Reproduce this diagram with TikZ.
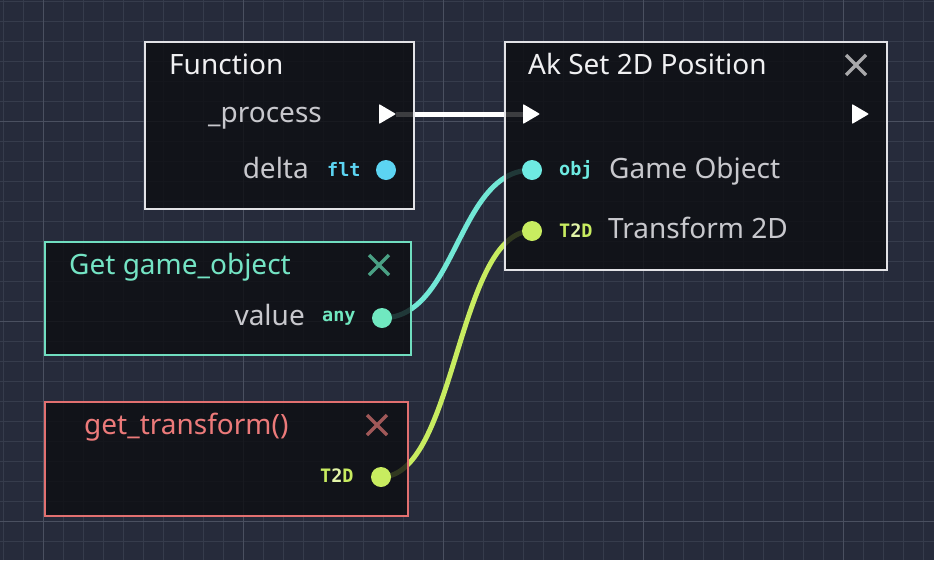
\documentclass[tikz,border=0pt]{standalone}
\usepackage{fontspec}
\setmainfont{Noto Sans}
\newfontfamily\iconfont{DejaVu Sans Mono}
\definecolor{bg}{RGB}{38,43,59}
\definecolor{gridminor}{RGB}{54,60,76}
\definecolor{gridmajor}{RGB}{74,80,96}
\definecolor{boxfill}{RGB}{12,13,17}
\definecolor{whiteborder}{RGB}{226,226,230}
\definecolor{titlewhite}{RGB}{240,240,242}
\definecolor{labelgray}{RGB}{200,200,205}
\definecolor{fltcol}{RGB}{92,212,242}
\definecolor{anycol}{RGB}{112,232,192}
\definecolor{objcol}{RGB}{110,234,226}
\definecolor{tdcol}{RGB}{200,236,96}
\definecolor{tdlight}{RGB}{226,244,168}
\definecolor{mintborder}{RGB}{112,222,192}
\definecolor{minttitle}{RGB}{116,228,196}
\definecolor{mintx}{RGB}{74,160,132}
\definecolor{salmonborder}{RGB}{226,112,112}
\definecolor{salmontitle}{RGB}{236,122,122}
\definecolor{salmonx}{RGB}{160,88,88}
\definecolor{closegray}{RGB}{168,168,170}
\definecolor{wirecol}{RGB}{114,232,214}
\tikzset{
  box/.style={draw, line width=2pt, fill=boxfill, fill opacity=0.8, draw opacity=1,
    anchor=north west, inner sep=0pt, outer sep=0pt},
  titletext/.style={anchor=base west, inner sep=0pt, font=\fontsize{28}{32}\selectfont},
  lbltext/.style={inner sep=0pt, text=labelgray, font=\fontsize{28}{32}\selectfont},
  icontext/.style={anchor=base west, inner sep=0pt, font=\iconfont\bfseries\fontsize{18.5}{20}\selectfont},
  portdot/.style={circle, minimum size=20pt, inner sep=0pt},
  wire/.style={line width=5pt},
  closeicon/.style={line width=3.5pt},
  tri/.style={fill=white, rounded corners=0.8pt}
}
\begin{document}
\begin{tikzpicture}[x=1pt,y=-1pt]
\useasboundingbox (0,0) rectangle (934,560);
\fill[bg] (0,0) rectangle (934,560);
% grid
\foreach \i in {0,...,46} {
  \draw[gridminor, line width=1pt] ({3.3+20*\i},0) -- ({3.3+20*\i},560);
}
\foreach \i in {0,...,28} {
  \draw[gridminor, line width=1pt] (0,{1.7+20*\i}) -- (934,{1.7+20*\i});
}
\foreach \x in {43.3,243.3,443.3,643.3,843.3} {
  \draw[gridmajor, line width=1pt] (\x,0) -- (\x,560);
}
\foreach \y in {121.7,321.7,521.7} {
  \draw[gridmajor, line width=1pt] (0,\y) -- (934,\y);
}
% port positions
\coordinate (fnout) at (396,114);
\coordinate (akin) at (523,114);
\coordinate (akout) at (852,114);
\coordinate (deltap) at (386,170);
\coordinate (gop) at (532,170);
\coordinate (trp) at (532,231);
\coordinate (valp) at (382,318);
\coordinate (gtp) at (381,477);
% connectors (behind the translucent boxes)
\draw[wire, white] (fnout) -- (akin);
\draw[wire, wirecol] (valp) .. controls +(75,0) and +(-75,0) .. (gop);
\draw[wire, tdcol] (gtp) .. controls +(75,0) and +(-75,0) .. (trp);
% boxes
\node[box, draw=whiteborder, minimum width=269pt, minimum height=167pt] (fnbox) at (145,42) {};
\node[box, draw=whiteborder, minimum width=382pt, minimum height=228pt] (akbox) at (505,42) {};
\node[box, draw=mintborder, minimum width=366pt, minimum height=113pt] (getbox) at (45,242) {};
\node[box, draw=salmonborder, minimum width=363pt, minimum height=114pt] (trbox) at (45,402) {};
% Function node
\node[titletext, text=titlewhite] (fntitle) at (169,74) {Function};
\node[lbltext, anchor=base east] (proclbl) at (322,122) {\_process};
\node[lbltext, anchor=base east] (deltalbl) at (309,178) {delta};
\node[icontext, text=fltcol] (flticon) at (327,176) {flt};
\node[portdot, fill=fltcol] (deltadot) at (deltap) {};
\fill[tri] (379,104) -- (fnout) -- (379,124) -- cycle;
% Ak Set 2D Position node
\node[titletext, text=titlewhite] (aktitle) at (528,74) {Ak Set 2D Position};
\coordinate (akx) at (856,65);
\draw[closeicon, closegray] (akx) ++(-10,-10) -- ++(20,20) (akx) ++(-10,10) -- ++(20,-20);
\fill[tri] (akin) ++(0,-10) -- ++(17,10) -- ++(-17,10) -- cycle;
\fill[tri] (akout) ++(0,-10) -- ++(17,10) -- ++(-17,10) -- cycle;
\node[portdot, fill=objcol] (godot) at (gop) {};
\node[icontext, text=objcol] (objicon) at (559,175) {obj};
\node[lbltext, anchor=base west] (golbl) at (609,178) {Game Object};
\node[portdot, fill=tdcol] (trdot) at (trp) {};
\node[icontext] (tdicon1) at (559,237) {\textcolor{tdcol}{T}\textcolor{tdlight}{2}\textcolor{tdcol}{D}};
\node[lbltext, anchor=base west] (trlbl) at (608,238) {Transform 2D};
% Get game_object node
\node[titletext, text=minttitle] (gettitle) at (69,274) {Get game\_object};
\coordinate (getx) at (379,265);
\draw[closeicon, mintx] (getx) ++(-10,-10) -- ++(20,20) (getx) ++(-10,10) -- ++(20,-20);
\node[lbltext, anchor=base east] (vallbl) at (305,325) {value};
\node[icontext, text=anycol] (anyicon) at (322,321) {any};
\node[portdot, fill=anycol] (valdot) at (valp) {};
% get_transform() node
\node[titletext, text=salmontitle] (trtitle) at (84,434) {get\_transform()};
\coordinate (trx) at (377,425);
\draw[closeicon, salmonx] (trx) ++(-10,-10) -- ++(20,20) (trx) ++(-10,10) -- ++(20,-20);
\node[icontext] (tdicon2) at (320,482) {\textcolor{tdcol}{T}\textcolor{tdlight}{2}\textcolor{tdcol}{D}};
\node[portdot, fill=tdcol] (gtdot) at (gtp) {};
\end{tikzpicture}
\end{document}
